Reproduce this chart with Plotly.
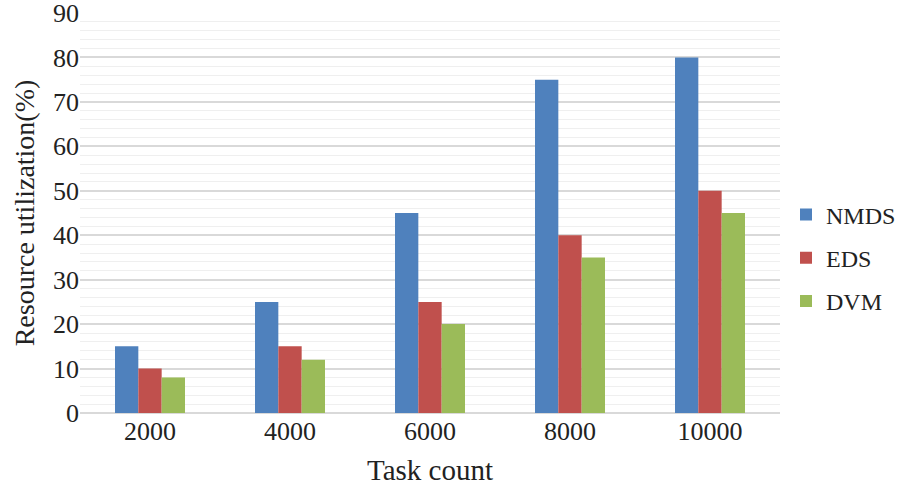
import plotly.graph_objects as go

tasks = ['2000', '4000', '6000', '8000', '10000']
nmds = [15, 25, 45, 75, 80]
eds = [10, 15, 25, 40, 50]
dvm = [8, 12, 20, 35, 45]

series = [('NMDS', nmds, '#4f81bd'), ('EDS', eds, '#c0504d'), ('DVM', dvm, '#9bbb59')]

fig = go.Figure()
for name, vals, col in series:
    fig.add_trace(go.Bar(x=tasks, y=vals, name=name, marker_color=col,
                         marker_line_width=0, legendgroup=name))

fig.update_layout(
    width=900, height=495,
    margin=dict(l=80, r=120, t=13, b=82),
    plot_bgcolor='white', paper_bgcolor='white',
    font=dict(family='Liberation Serif', size=26, color='#222'),
    barmode='group', bargap=0.5, bargroupgap=0,
    legend=dict(xref='container', yref='container', x=786 / 900, y=(495 - 258) / 495,
                yanchor='middle', xanchor='left',
                font=dict(size=24), tracegroupgap=9, itemwidth=30),
)
fig.update_xaxes(title=dict(text='Task count', font=dict(size=29), standoff=14),
                 showline=False, ticks='', automargin=False)
fig.update_yaxes(title=dict(text='Resource utilization(%)', font=dict(size=28), standoff=10),
                 range=[0, 90], dtick=10, showgrid=True, gridcolor='#d9d9d9',
                 gridwidth=1.5, zeroline=True, zerolinecolor='#d9d9d9', zerolinewidth=1.5,
                 minor=dict(dtick=2, showgrid=True, gridcolor='#efefef', gridwidth=1),
                 ticks='', automargin=False, ticklabeloverflow='allow')

fig.write_html("out.html", config={'displayModeBar': False},
               post_script="document.body.style.margin='0';")
